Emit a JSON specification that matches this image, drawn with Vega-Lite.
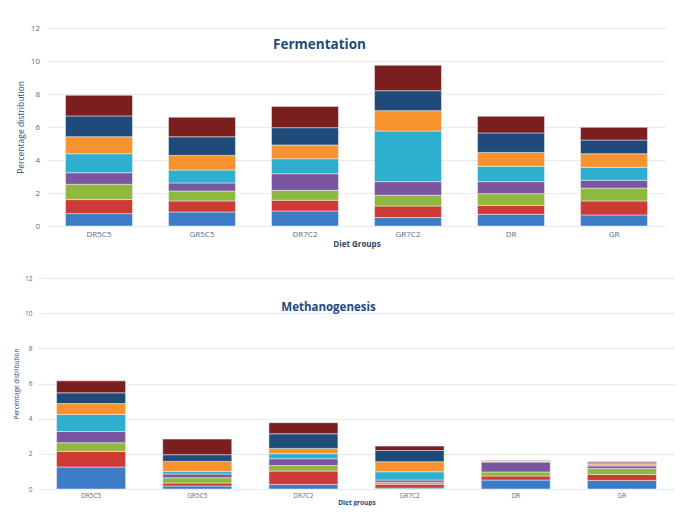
{
  "$schema": "https://vega.github.io/schema/vega-lite/v6.json",
  "background": "white",
  "padding": {"left": 13, "top": 24, "right": 0, "bottom": 0},
  "spacing": 27,
  "center": true,
  "config": {
    "view": {"stroke": null},
    "font": "Open Sans",
    "axis": {"domain": false, "ticks": false, "gridColor": "#E4EAF1", "labelColor": "#5B6B7F", "titleColor": "#2E4A6E"},
    "title": {"color": "#1F497D", "fontWeight": "bold", "font": "Open Sans"}
  },
  "datasets": {
    "ferm": [
      {"g": "DR5C5", "s": 1, "v": 0.75}, {"g": "DR5C5", "s": 2, "v": 0.85}, {"g": "DR5C5", "s": 3, "v": 0.93}, {"g": "DR5C5", "s": 4, "v": 0.70},
      {"g": "DR5C5", "s": 5, "v": 1.15}, {"g": "DR5C5", "s": 6, "v": 1.03}, {"g": "DR5C5", "s": 7, "v": 1.26}, {"g": "DR5C5", "s": 8, "v": 1.25},
      {"g": "GR5C5", "s": 1, "v": 0.85}, {"g": "GR5C5", "s": 2, "v": 0.67}, {"g": "GR5C5", "s": 3, "v": 0.60}, {"g": "GR5C5", "s": 4, "v": 0.49},
      {"g": "GR5C5", "s": 5, "v": 0.78}, {"g": "GR5C5", "s": 6, "v": 0.89}, {"g": "GR5C5", "s": 7, "v": 1.13}, {"g": "GR5C5", "s": 8, "v": 1.18},
      {"g": "DR7C2", "s": 1, "v": 0.91}, {"g": "DR7C2", "s": 2, "v": 0.65}, {"g": "DR7C2", "s": 3, "v": 0.60}, {"g": "DR7C2", "s": 4, "v": 1.01},
      {"g": "DR7C2", "s": 5, "v": 0.91}, {"g": "DR7C2", "s": 6, "v": 0.83}, {"g": "DR7C2", "s": 7, "v": 1.05}, {"g": "DR7C2", "s": 8, "v": 1.29},
      {"g": "GR7C2", "s": 1, "v": 0.51}, {"g": "GR7C2", "s": 2, "v": 0.70}, {"g": "GR7C2", "s": 3, "v": 0.65}, {"g": "GR7C2", "s": 4, "v": 0.83},
      {"g": "GR7C2", "s": 5, "v": 3.07}, {"g": "GR7C2", "s": 6, "v": 1.23}, {"g": "GR7C2", "s": 7, "v": 1.21}, {"g": "GR7C2", "s": 8, "v": 1.54},
      {"g": "DR", "s": 1, "v": 0.71}, {"g": "DR", "s": 2, "v": 0.54}, {"g": "DR", "s": 3, "v": 0.71}, {"g": "DR", "s": 4, "v": 0.73},
      {"g": "DR", "s": 5, "v": 0.93}, {"g": "DR", "s": 6, "v": 0.84}, {"g": "DR", "s": 7, "v": 1.18}, {"g": "DR", "s": 8, "v": 1.01},
      {"g": "GR", "s": 1, "v": 0.67}, {"g": "GR", "s": 2, "v": 0.85}, {"g": "GR", "s": 3, "v": 0.78}, {"g": "GR", "s": 4, "v": 0.47},
      {"g": "GR", "s": 5, "v": 0.79}, {"g": "GR", "s": 6, "v": 0.82}, {"g": "GR", "s": 7, "v": 0.83}, {"g": "GR", "s": 8, "v": 0.77}
    ],
    "meth": [
      {"g": "DR5C5", "s": 1, "v": 1.25}, {"g": "DR5C5", "s": 2, "v": 0.89}, {"g": "DR5C5", "s": 3, "v": 0.49}, {"g": "DR5C5", "s": 4, "v": 0.64},
      {"g": "DR5C5", "s": 5, "v": 0.97}, {"g": "DR5C5", "s": 6, "v": 0.62}, {"g": "DR5C5", "s": 7, "v": 0.61}, {"g": "DR5C5", "s": 8, "v": 0.68},
      {"g": "GR5C5", "s": 1, "v": 0.17}, {"g": "GR5C5", "s": 2, "v": 0.17}, {"g": "GR5C5", "s": 3, "v": 0.30}, {"g": "GR5C5", "s": 4, "v": 0.21},
      {"g": "GR5C5", "s": 5, "v": 0.15}, {"g": "GR5C5", "s": 6, "v": 0.57}, {"g": "GR5C5", "s": 7, "v": 0.38}, {"g": "GR5C5", "s": 8, "v": 0.89},
      {"g": "DR7C2", "s": 1, "v": 0.26}, {"g": "DR7C2", "s": 2, "v": 0.76}, {"g": "DR7C2", "s": 3, "v": 0.32}, {"g": "DR7C2", "s": 4, "v": 0.38},
      {"g": "DR7C2", "s": 5, "v": 0.29}, {"g": "DR7C2", "s": 6, "v": 0.30}, {"g": "DR7C2", "s": 7, "v": 0.83}, {"g": "DR7C2", "s": 8, "v": 0.63},
      {"g": "GR7C2", "s": 1, "v": 0.05}, {"g": "GR7C2", "s": 2, "v": 0.22}, {"g": "GR7C2", "s": 3, "v": 0.12}, {"g": "GR7C2", "s": 4, "v": 0.12},
      {"g": "GR7C2", "s": 5, "v": 0.47}, {"g": "GR7C2", "s": 6, "v": 0.57}, {"g": "GR7C2", "s": 7, "v": 0.64}, {"g": "GR7C2", "s": 8, "v": 0.25},
      {"g": "DR", "s": 1, "v": 0.51}, {"g": "DR", "s": 2, "v": 0.23}, {"g": "DR", "s": 3, "v": 0.23}, {"g": "DR", "s": 4, "v": 0.56},
      {"g": "DR", "s": 5, "v": 0.04}, {"g": "DR", "s": 6, "v": 0.02}, {"g": "DR", "s": 7, "v": 0.02}, {"g": "DR", "s": 8, "v": 0.02},
      {"g": "GR", "s": 1, "v": 0.49}, {"g": "GR", "s": 2, "v": 0.34}, {"g": "GR", "s": 3, "v": 0.33}, {"g": "GR", "s": 4, "v": 0.15},
      {"g": "GR", "s": 5, "v": 0.06}, {"g": "GR", "s": 6, "v": 0.06}, {"g": "GR", "s": 7, "v": 0.06}, {"g": "GR", "s": 8, "v": 0.06}
    ]
  },
  "vconcat": [
    {
      "width": 618,
      "height": 198,
      "data": {"name": "ferm"},
      "title": {"text": "Fermentation", "fontSize": 13.5, "offset": -27, "dx": -37, "anchor": "middle"},
      "mark": {"type": "bar", "stroke": "#F2F4F7", "strokeWidth": 0.5},
      "encoding": {
        "x": {
          "field": "g", "type": "nominal", "sort": null,
          "scale": {"paddingInner": 0.35},
          "axis": {"labelAngle": 0, "labelFontSize": 8, "labelPadding": 4, "title": "Diet Groups", "titleFontSize": 8, "titleFontWeight": "bold", "titlePadding": 2}
        },
        "y": {
          "field": "v", "type": "quantitative", "stack": "zero",
          "scale": {"domain": [0, 12]},
          "axis": {"values": [0, 2, 4, 6, 8, 10, 12], "labelFontSize": 8, "labelPadding": 8, "minExtent": 18, "maxExtent": 18, "title": "Percentage distribution", "titleFontSize": 8.5, "titleFontWeight": "normal", "titlePadding": 4}
        },
        "color": {
          "field": "s", "type": "nominal", "legend": null,
          "scale": {"domain": [1, 2, 3, 4, 5, 6, 7, 8], "range": ["#3C7BC6", "#CE3B36", "#8FB83E", "#7B56A0", "#2FAFCF", "#F7922E", "#1F4A7A", "#7A1F1E"]}
        },
        "order": {"field": "s", "type": "quantitative"}
      }
    },
    {
      "width": 637,
      "height": 211,
      "data": {"name": "meth"},
      "title": {"text": "Methanogenesis", "fontSize": 11.5, "offset": -38, "dx": -28, "anchor": "middle"},
      "mark": {"type": "bar", "stroke": "#F2F4F7", "strokeWidth": 0.5},
      "encoding": {
        "x": {
          "field": "g", "type": "nominal", "sort": null,
          "scale": {"paddingInner": 0.35},
          "axis": {"labelAngle": 0, "labelFontSize": 6.5, "labelPadding": 3, "title": "Diet groups", "titleFontSize": 6.5, "titleFontWeight": "bold", "titlePadding": 1}
        },
        "y": {
          "field": "v", "type": "quantitative", "stack": "zero",
          "scale": {"domain": [0, 12]},
          "axis": {"values": [0, 2, 4, 6, 8, 10, 12], "labelFontSize": 6.5, "labelPadding": 6, "minExtent": 14, "maxExtent": 14, "title": "Percentage distribution", "titleFontSize": 6.5, "titleFontWeight": "normal", "titlePadding": 5}
        },
        "color": {
          "field": "s", "type": "nominal", "legend": null,
          "scale": {"domain": [1, 2, 3, 4, 5, 6, 7, 8], "range": ["#3C7BC6", "#CE3B36", "#8FB83E", "#7B56A0", "#2FAFCF", "#F7922E", "#1F4A7A", "#7A1F1E"]}
        },
        "order": {"field": "s", "type": "quantitative"}
      }
    }
  ]
}
